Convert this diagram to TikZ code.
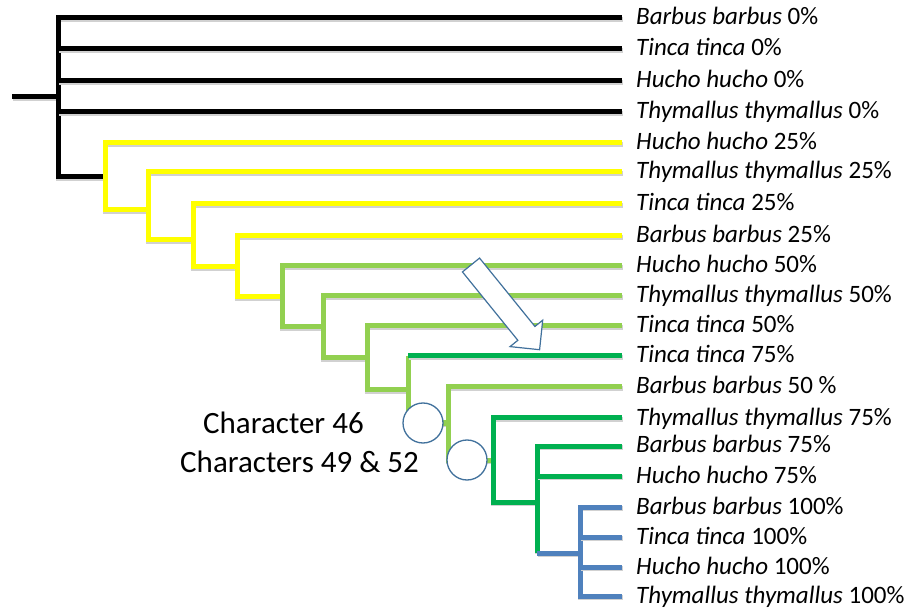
\documentclass[tikz,border=0pt]{standalone}
\usepackage{fontspec}
\setmainfont{Carlito}
\definecolor{ylw}{HTML}{FFFF00}
\definecolor{lgr}{HTML}{92D050}
\definecolor{dgr}{HTML}{00B050}
\definecolor{blu}{HTML}{4F81BD}
\definecolor{edg}{HTML}{41719C}
\tikzset{br/.style={line width=5pt,preaction={draw=black!18,line width=5pt,transform canvas={shift={(0.7pt,-1.2pt)}}}}}
\tikzset{lf/.style={anchor=west,inner xsep=14pt,inner ysep=0pt,text height=14pt,text depth=0pt,font=\fontsize{25}{29}\selectfont}}
\tikzset{circ/.style={circle,draw=edg,fill=white,line width=1.3pt,minimum size=40pt,inner sep=0pt}}
\tikzset{chr/.style={anchor=base west,inner sep=0pt,font=\fontsize{31}{36}\selectfont}}

\begin{document}
\begin{tikzpicture}[x=1pt,y=-1pt]
        \useasboundingbox (0,0) rectangle (913,609);
        % leaves
        \node[lf] (bb0) at (622,18) {\textit{Barbus barbus} 0\%};
        \node[lf] (tt0) at (622,49) {\textit{Tinca tinca} 0\%};
        \node[lf] (hh0) at (622,81) {\textit{Hucho hucho} 0\%};
        \node[lf] (th0) at (622,112) {\textit{Thymallus thymallus} 0\%};
        \node[lf] (hh25) at (622,143) {\textit{Hucho hucho} 25\%};
        \node[lf] (th25) at (622,172) {\textit{Thymallus thymallus} 25\%};
        \node[lf] (tt25) at (622,204) {\textit{Tinca tinca} 25\%};
        \node[lf] (bb25) at (622,236) {\textit{Barbus barbus} 25\%};
        \node[lf] (hh50) at (622,266) {\textit{Hucho hucho} 50\%};
        \node[lf] (th50) at (622,296) {\textit{Thymallus thymallus} 50\%};
        \node[lf] (tt50) at (622,326) {\textit{Tinca tinca} 50\%};
        \node[lf] (tt75) at (622,356) {\textit{Tinca tinca} 75\%};
        \node[lf] (bb50) at (622,387) {\textit{Barbus barbus} 50 \%};
        \node[lf] (th75) at (622,418) {\textit{Thymallus thymallus} 75\%};
        \node[lf] (bb75) at (622,446) {\textit{Barbus barbus} 75\%};
        \node[lf] (hh75) at (622,476) {\textit{Hucho hucho} 75\%};
        \node[lf] (bb100) at (622,507) {\textit{Barbus barbus} 100\%};
        \node[lf] (tt100) at (622,537) {\textit{Tinca tinca} 100\%};
        \node[lf] (hh100) at (622,567) {\textit{Hucho hucho} 100\%};
        \node[lf] (th100) at (622,596) {\textit{Thymallus thymallus} 100\%};
        % internal nodes (foot of each vertical)
        \coordinate (root) at (12,97);
        \coordinate (b0) at (58,177);
        \coordinate (b1) at (105,210);
        \coordinate (b2) at (148,240);
        \coordinate (b3) at (193,267);
        \coordinate (b4) at (237,297);
        \coordinate (b5) at (282,327);
        \coordinate (b6) at (323,358);
        \coordinate (b7) at (367,390);
        \coordinate (b8) at (408,423);
        \coordinate (b9) at (448,460);
        \coordinate (b10) at (493,502);
        \coordinate (b11) at (537,553);
        \coordinate (b12) at (580,596);
        % branches
        \draw[br] (root) -- (root -| b0);
        \draw[br] (bb0.west) -| (b0) -- (b1 |- b0);
        \foreach \n in {tt0,hh0,th0} \draw[br] (\n.west) -- (\n.west -| b0);
        \draw[br,ylw] (hh25.west) -| (b1) -- (b2 |- b1);
        \draw[br,ylw] (th25.west) -| (b2) -- (b3 |- b2);
        \draw[br,ylw] (tt25.west) -| (b3) -- (b4 |- b3);
        \draw[br,ylw] (bb25.west) -| (b4) -- (b5 |- b4);
        \draw[br,lgr] (hh50.west) -| (b5) -- (b6 |- b5);
        \draw[br,lgr] (th50.west) -| (b6) -- (b7 |- b6);
        \draw[br,lgr] (tt50.west) -| (b7) -- (b8 |- b7);
        \draw[br,lgr] (tt75.west -| b8) -- (b8) -- (b9 |- b8);
        \draw[br,dgr] (tt75.west) -- (tt75.west -| b8);
        \draw[br,lgr] (bb50.west) -| (b9) -- (b10 |- b9);
        \draw[br,dgr] (th75.west) -| (b10) -- (b11 |- b10);
        \draw[br,dgr] (bb75.west) -| (b11);
        \draw[br,dgr] (hh75.west) -- (hh75.west -| b11);
        \draw[br,blu] (b11) -- (b12 |- b11);
        \draw[br,blu] (bb100.west) -| (b12) -- (th100.west);
        \foreach \n in {tt100,hh100} \draw[br,blu] (\n.west) -- (\n.west -| b12);
        % character changes
        \node[circ] (c46) at (423,423) {};
        \node[circ] (c4952) at (467,460) {};
        \node[chr] (ch46) at (203,433) {Character 46};
        \node[chr] (ch4952) at (180,472) {Characters 49 \& 52};
        % big arrow
        \begin{scope}[shift={(471,265)},rotate=-51]
            \draw[edg,fill=white,line width=1.2pt,line join=miter]
                (0,-11) -- (88,-11) -- (88,-21) -- (109,0) -- (88,21) -- (88,11) -- (0,11) -- cycle;
        \end{scope}
    \end{tikzpicture}
\end{document}
